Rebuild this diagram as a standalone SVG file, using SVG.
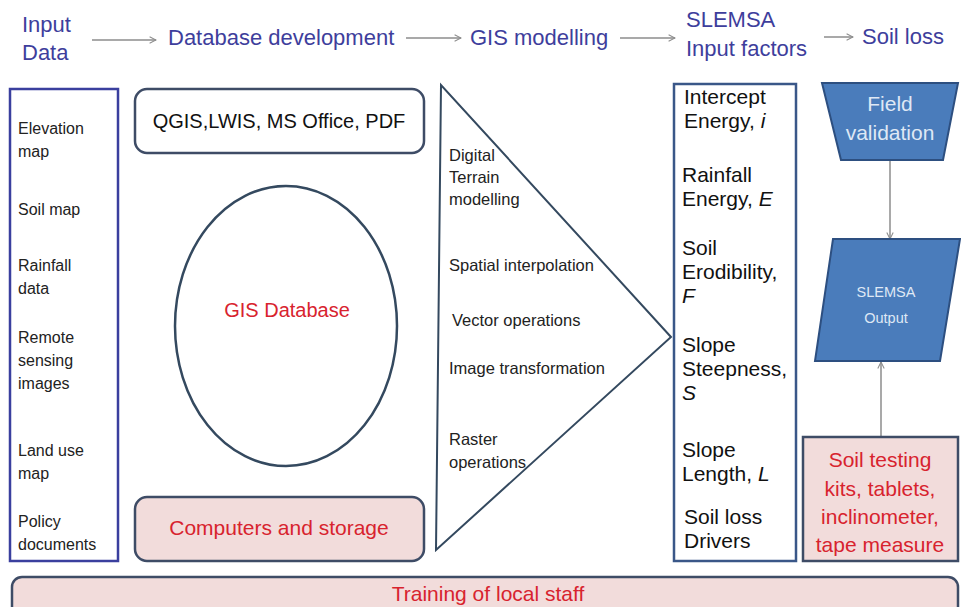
<svg xmlns="http://www.w3.org/2000/svg" width="961" height="607" viewBox="0 0 961 607">
<defs>
<marker id="ah" viewBox="0 0 10 10" refX="9" refY="5" markerWidth="8" markerHeight="8" orient="auto" markerUnits="userSpaceOnUse">
<path d="M1,1 L9,5 L1,9" fill="none" stroke="#8c8c8c" stroke-width="1.3"/>
</marker>
</defs>
<style>
text{font-family:"Liberation Sans",Arial,sans-serif}
.hd{font-size:22px;fill:#3e3e9c}
.lt{font-size:16px;fill:#222}
.tt{font-size:16.5px;fill:#222}
.st{font-size:21px;fill:#111}
.red{fill:#d8232e}
.pink{fill:#f2dcdb;stroke:#3e4c66;stroke-width:2.5}
.box{fill:#fff;stroke:#3e4c66;stroke-width:2.5}
.blue{fill:#4a7cbb;stroke:#2d4f80;stroke-width:2}
.wt{fill:#dfe8f5}
.conn{stroke:#8c8c8c;stroke-width:1.5;fill:none}
</style>
<rect width="961" height="607" fill="#fff"/>

<g id="header">
<text class="hd" x="22" y="32">Input</text>
<text class="hd" x="22" y="60">Data</text>
<text class="hd" x="168" y="45">Database development</text>
<text class="hd" x="470" y="45">GIS modelling</text>
<text class="hd" x="686" y="27">SLEMSA</text>
<text class="hd" x="686" y="56">Input factors</text>
<text class="hd" x="862" y="44">Soil loss</text>
</g>

<g id="connectors">
<line class="conn" x1="92" y1="40" x2="156" y2="40" marker-end="url(#ah)"/>
<line class="conn" x1="406" y1="38" x2="461" y2="38" marker-end="url(#ah)"/>
<line class="conn" x1="620" y1="38" x2="675" y2="38" marker-end="url(#ah)"/>
<line class="conn" x1="824" y1="37" x2="853" y2="37" marker-end="url(#ah)"/>
<line class="conn" x1="890" y1="160" x2="890" y2="239" marker-end="url(#ah)"/>
<line class="conn" x1="881" y1="437" x2="881" y2="362" marker-end="url(#ah)"/>
</g>

<g id="input-data">
<rect x="10" y="89" width="108" height="472" fill="#fff" stroke="#3a3f9e" stroke-width="2.5"/>
<text class="lt" x="18" y="134">Elevation</text>
<text class="lt" x="18" y="157">map</text>
<text class="lt" x="18" y="215">Soil map</text>
<text class="lt" x="18" y="271">Rainfall</text>
<text class="lt" x="18" y="294">data</text>
<text class="lt" x="18" y="343">Remote</text>
<text class="lt" x="18" y="366">sensing</text>
<text class="lt" x="18" y="389">images</text>
<text class="lt" x="18" y="456">Land use</text>
<text class="lt" x="18" y="479">map</text>
<text class="lt" x="18" y="527">Policy</text>
<text class="lt" x="18" y="550">documents</text>
</g>

<g id="software">
<rect class="box" x="135" y="89" width="289" height="64" rx="12"/>
<text x="279" y="128" text-anchor="middle" font-size="20" fill="#111">QGIS,LWIS, MS Office, PDF</text>
</g>

<g id="gis-database">
<ellipse cx="286" cy="326" rx="111" ry="140" fill="#fff" stroke="#34495f" stroke-width="2.5"/>
<text class="red" x="287" y="317" text-anchor="middle" font-size="20">GIS Database</text>
</g>

<g id="computers">
<rect class="pink" x="135" y="497" width="289" height="64" rx="12"/>
<text class="red" x="279" y="535" text-anchor="middle" font-size="21">Computers and storage</text>
</g>

<g id="gis-modelling">
<polygon points="441,85 436,550 671,337" fill="#fff" stroke="#34495f" stroke-width="2"/>
<text class="tt" x="449" y="161">Digital</text>
<text class="tt" x="449" y="183">Terrain</text>
<text class="tt" x="449" y="205">modelling</text>
<text class="tt" x="449" y="271">Spatial interpolation</text>
<text class="tt" x="452" y="326">Vector operations</text>
<text class="tt" x="449" y="374">Image transformation</text>
<text class="tt" x="449" y="445">Raster</text>
<text class="tt" x="449" y="468">operations</text>
</g>

<g id="slemsa-factors">
<rect x="674" y="84" width="122" height="477" fill="#fff" stroke="#3a5788" stroke-width="2.5"/>
<text class="st" x="684" y="104">Intercept</text>
<text class="st" x="684" y="128">Energy, <tspan font-style="italic">i</tspan></text>
<text class="st" x="682" y="182">Rainfall</text>
<text class="st" x="682" y="206">Energy, <tspan font-style="italic">E</tspan></text>
<text class="st" x="682" y="255">Soil</text>
<text class="st" x="682" y="279">Erodibility,</text>
<text class="st" x="682" y="303" font-style="italic"> F</text>
<text class="st" x="682" y="352">Slope</text>
<text class="st" x="682" y="376">Steepness,</text>
<text class="st" x="682" y="400" font-style="italic">S</text>
<text class="st" x="682" y="457">Slope</text>
<text class="st" x="682" y="481">Length, <tspan font-style="italic">L</tspan></text>
<text class="st" x="684" y="524">Soil loss</text>
<text class="st" x="684" y="548">Drivers</text>
</g>

<g id="field-validation">
<polygon class="blue" points="822,83 958,83 943,160 841,160"/>
<text class="wt" x="890" y="111" text-anchor="middle" font-size="21">Field</text>
<text class="wt" x="890" y="140" text-anchor="middle" font-size="21">validation</text>
</g>

<g id="slemsa-output">
<polygon class="blue" points="833,239 960,239 940,361 815,361"/>
<text class="wt" x="886" y="297" text-anchor="middle" font-size="14.5">SLEMSA</text>
<text class="wt" x="886" y="323" text-anchor="middle" font-size="14.5">Output</text>
</g>

<g id="soil-testing">
<rect class="pink" x="803" y="437" width="155" height="124"/>
<text class="red" x="880" y="467" text-anchor="middle" font-size="21">Soil testing</text>
<text class="red" x="880" y="496" text-anchor="middle" font-size="21">kits, tablets,</text>
<text class="red" x="880" y="524" text-anchor="middle" font-size="21">inclinometer,</text>
<text class="red" x="880" y="552" text-anchor="middle" font-size="21">tape measure</text>
</g>

<g id="training">
<rect class="pink" x="12" y="577" width="946" height="50" rx="10"/>
<text class="red" x="488" y="601" text-anchor="middle" font-size="21">Training of local staff</text>
</g>
</svg>
